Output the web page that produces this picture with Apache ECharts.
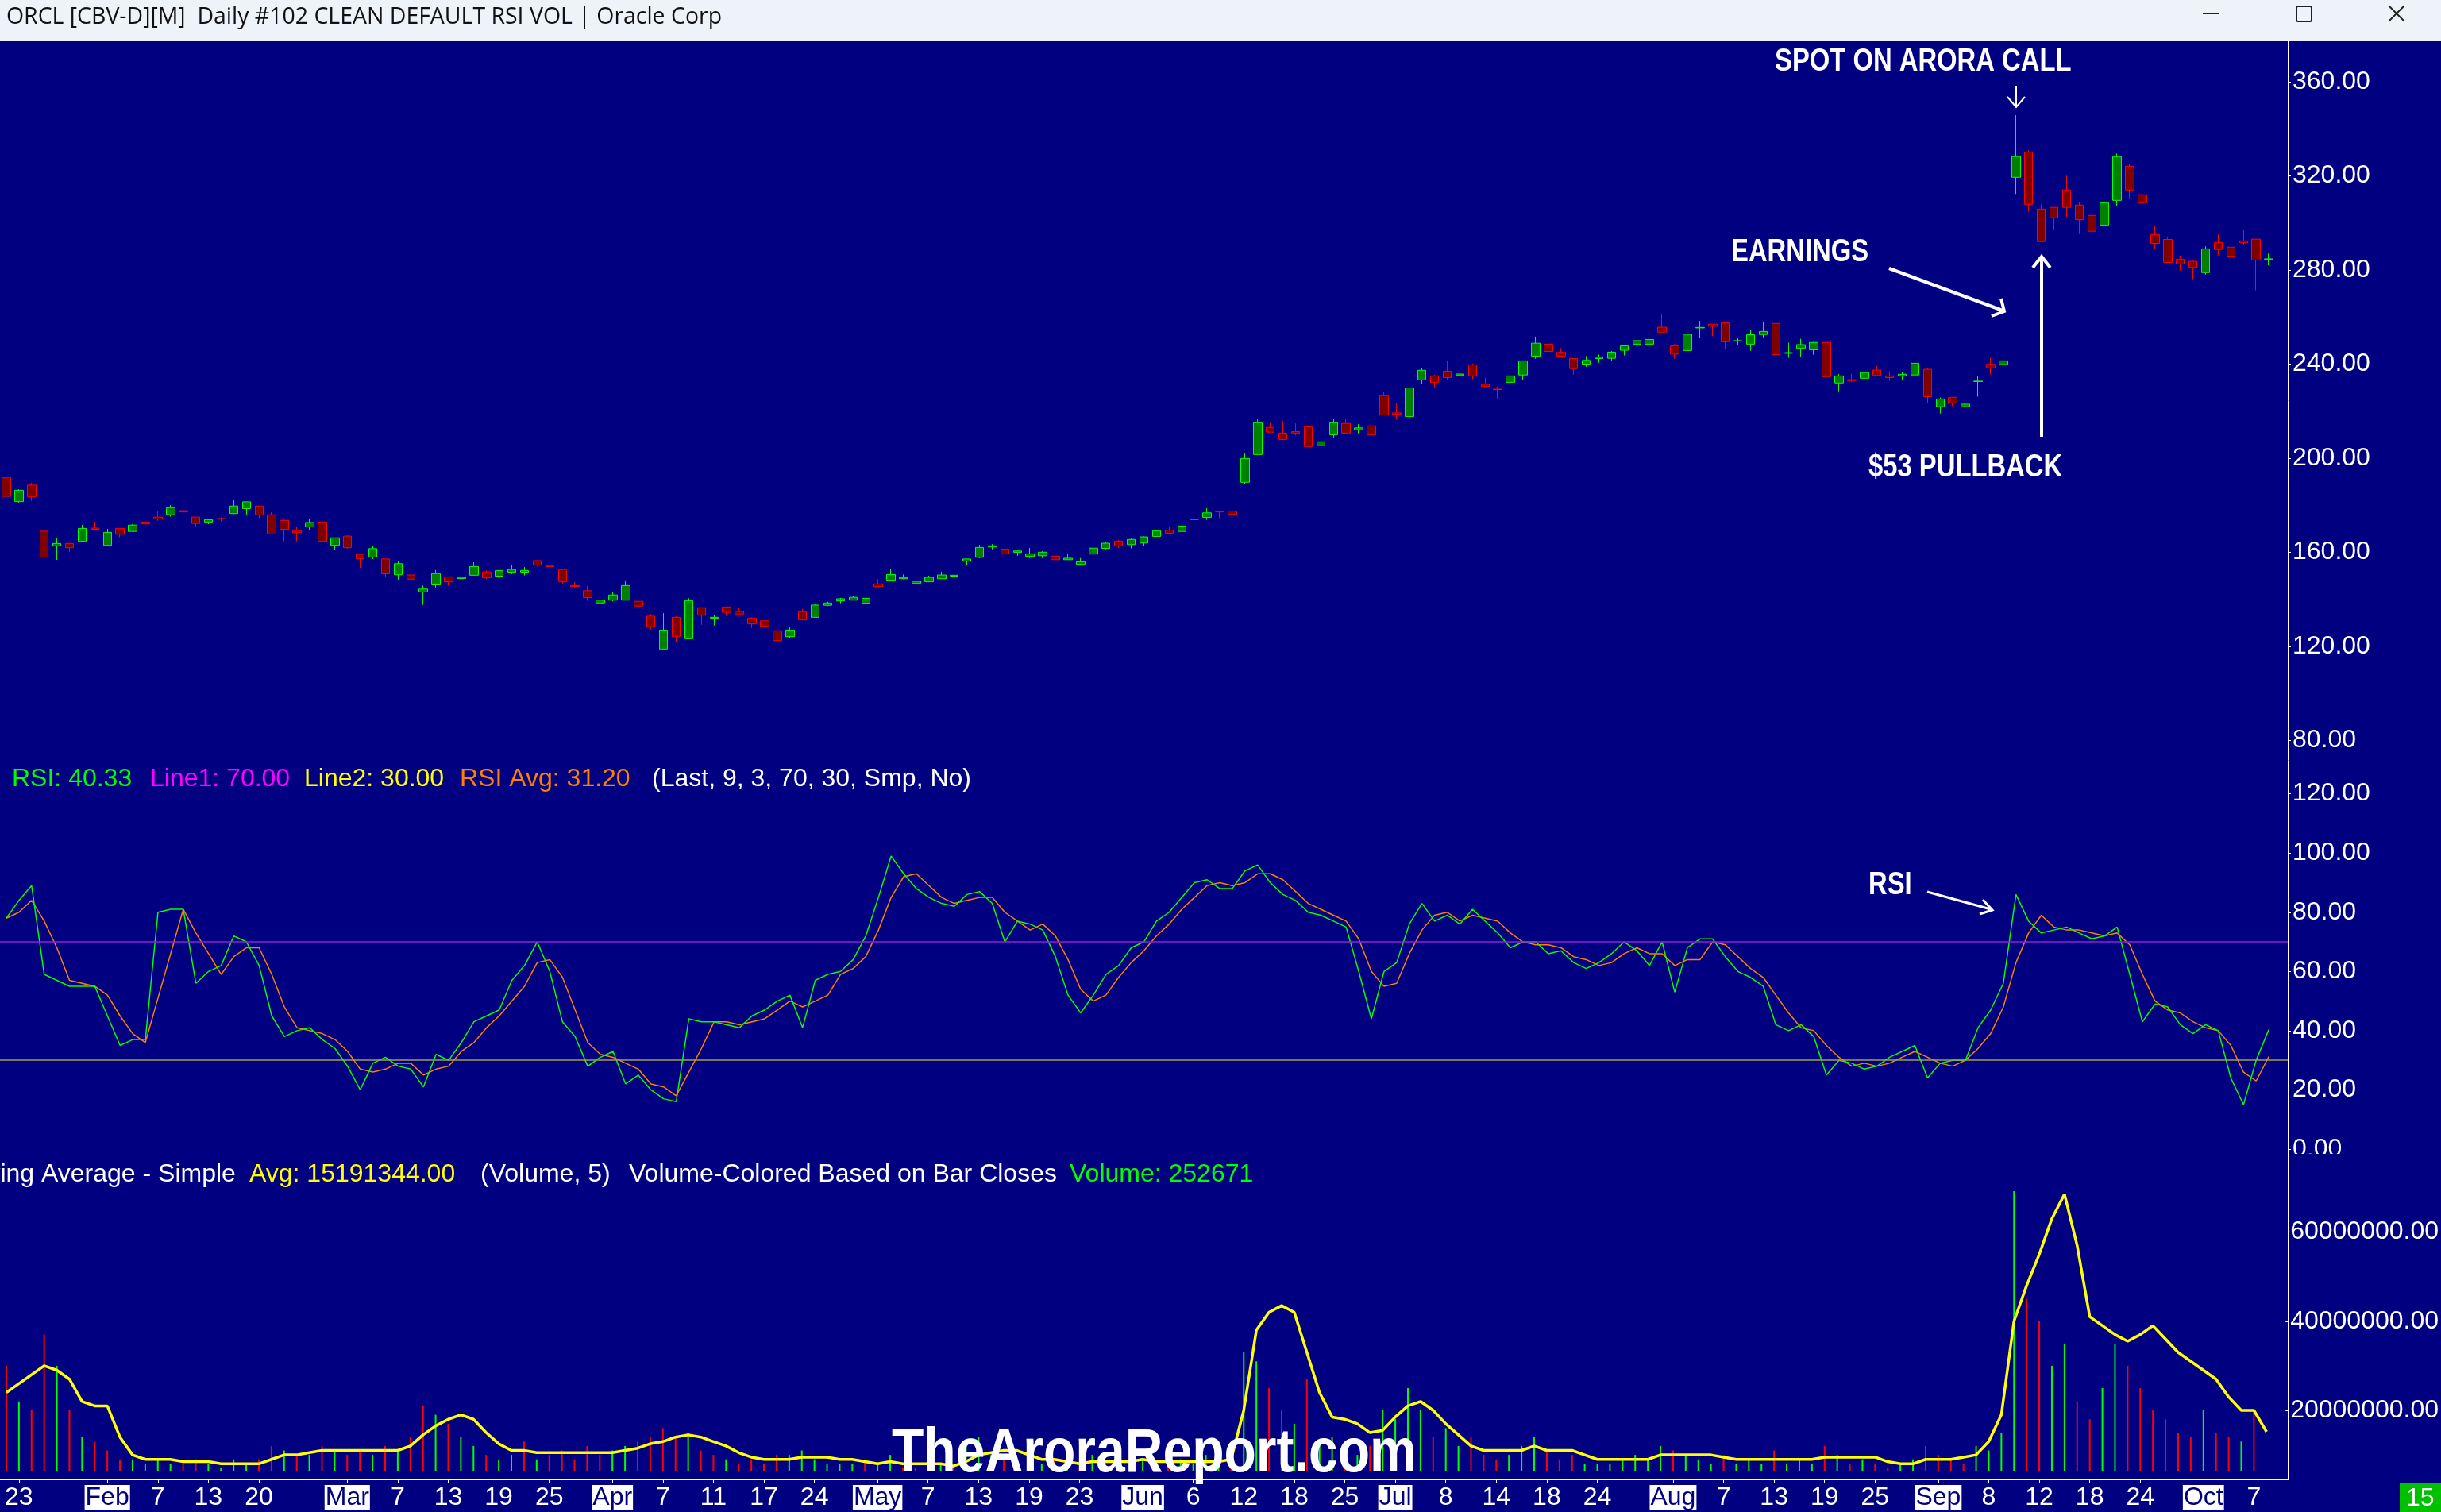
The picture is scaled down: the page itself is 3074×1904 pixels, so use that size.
<!DOCTYPE html>
<html><head><meta charset="utf-8">
<script src="https://cdn.jsdelivr.net/npm/echarts@6/dist/echarts.min.js"></script>
<style>html,body{margin:0;padding:0;background:#000080;overflow:hidden}#c{width:3074px;height:1904px;}</style>
</head><body><div id="c"></div>
<script>
// ---------- categories (trading days 2025) ----------
const tradingDays = {
  1:[22,23,24,27,28,29,30,31],
  2:[3,4,5,6,7,10,11,12,13,14,18,19,20,21,24,25,26,27,28],
  3:[3,4,5,6,7,10,11,12,13,14,17,18,19,20,21,24,25,26,27,28,31],
  4:[1,2,3,4,7,8,9,10,11,14,15,16,17,21,22,23,24,25,28,29,30],
  5:[1,2,5,6,7,8,9,12,13,14,15,16,19,20,21,22,23,27,28,29,30],
  6:[2,3,4,5,6,9,10,11,12,13,16,17,18,20,23,24,25,26,27,30],
  7:[1,2,3,7,8,9,10,11,14,15,16,17,18,21,22,23,24,25,28,29,30,31],
  8:[1,4,5,6,7,8,11,12,13,14,15,18,19,20,21,22,25,26,27,28,29],
  9:[2,3,4,5,8,9,10,11,12,15,16,17,18,19,22,23,24,25,26,29,30],
  10:[1,2,3,6,7,8,9]
};
const tickDates = ['01-23','02-03','02-07','02-13','02-20','03-03','03-07','03-13','03-19','03-25','04-01','04-07','04-11','04-17','04-24','05-01','05-07','05-13','05-19','05-23','06-02','06-06','06-12','06-18','06-25','07-01','07-08','07-14','07-18','07-24','08-01','08-07','08-13','08-19','08-25','09-02','09-08','09-12','09-18','09-24','10-01','10-07'];
const tickText = ['23','Feb','7','13','20','Mar','7','13','19','25','Apr','7','11','17','24','May','7','13','19','23','Jun','6','12','18','25','Jul','8','14','18','24','Aug','7','13','19','25','Sep','8','12','18','24','Oct','7'];

// ---------- price (OHLC) ----------
const openP = [
191.7,181.6,188.6,169.0,162.7,163.8,164.7,170.3,163.0,170.2,
168.9,172.9,175.0,176.0,177.7,175.0,172.9,174.4,176.5,178.6,
179.7,176.0,173.6,169.3,170.8,172.9,163.0,166.9,159.2,158.0,
157.2,150.5,150.4,143.2,146.2,149.6,148.9,150.3,151.7,149.9,
151.6,151.6,156.5,154.4,152.7,145.9,143.7,138.5,139.7,139.7,
139.2,132.9,118.9,132.4,123.3,136.5,132.0,136.8,134.9,132.1,
130.9,126.7,124.2,134.8,132.4,137.5,139.4,139.7,138.4,146.6,
148.2,148.8,146.8,147.5,148.8,149.9,156.3,157.9,162.3,161.4,
160.0,158.3,158.6,158.4,156.9,154.9,159.3,161.7,164.8,163.3,
164.0,166.8,169.5,168.9,174.0,174.9,177.6,177.6,189.8,201.6,
213.1,210.7,211.3,213.4,205.3,210.0,214.8,212.1,213.8,226.6,
219.3,217.7,233.3,235.0,237.0,235.2,239.7,231.4,229.4,232.3,
235.4,243.4,248.5,245.0,242.4,240.0,242.4,242.5,245.9,248.5,
248.5,255.7,247.8,245.8,255.4,257.0,257.6,249.8,248.5,252.6,
257.3,244.6,246.7,246.1,249.2,232.0,233.4,234.0,237.5,235.0,
235.0,235.4,237.8,221.9,225.9,221.9,232.6,239.9,239.8,319.4,
330.1,305.9,306.6,314.0,307.6,303.2,299.1,309.6,324.1,312.0,
295.1,293.0,284.6,283.7,278.9,291.7,289.7,292.4,293.1,284.5,
null];
const closeP = [
183.8,186.4,183.6,158.0,163.8,162.0,170.2,169.8,168.5,167.7,
171.6,172.1,174.2,179.0,177.2,172.3,173.9,174.2,179.7,181.5,
175.9,167.8,169.8,168.4,172.7,164.7,166.2,162.0,157.3,161.6,
150.9,155.2,148.6,144.4,151.0,147.5,149.4,154.0,149.2,152.3,
152.7,152.3,154.6,153.9,147.5,145.5,140.8,139.7,141.9,145.9,
137.2,128.4,127.0,124.3,139.5,133.3,132.4,134.5,133.8,129.6,
128.6,122.5,127.0,131.3,137.6,138.5,140.3,140.9,140.5,145.5,
150.6,149.3,147.7,149.4,150.4,150.3,157.2,162.1,162.8,159.3,
160.6,159.4,160.1,156.9,157.5,156.0,161.8,163.9,162.7,165.5,
166.6,169.2,168.1,171.2,174.2,176.8,177.2,176.3,199.9,215.1,
211.1,208.0,210.7,205.0,207.0,215.1,210.7,212.9,209.9,218.4,
218.7,229.9,237.4,232.2,234.3,235.8,235.0,230.5,229.2,235.0,
241.4,248.9,245.4,243.4,238.1,241.6,243.0,245.1,247.8,250.0,
250.5,253.6,244.3,252.7,255.6,256.1,249.5,250.0,252.5,253.9,
244.0,244.9,248.3,249.2,234.7,235.0,233.0,236.4,235.2,234.3,
235.7,240.4,226.2,225.2,223.5,223.0,232.8,238.4,241.4,328.2,
307.9,292.1,302.2,306.6,301.4,296.5,308.6,328.2,314.0,308.6,
291.3,283.2,282.6,281.1,289.0,288.7,285.9,291.6,284.2,284.75,
null];
const highP = [
192.5,186.8,189.5,172.8,166.1,163.8,171.7,173.0,170.0,170.2,
172.0,175.7,177.4,180.1,179.0,175.0,174.3,174.8,182.1,181.5,
179.7,177.0,174.3,170.7,174.1,175.1,166.2,167.3,159.2,162.6,
157.2,156.5,152.4,145.9,152.5,149.6,151.0,155.8,152.3,154.1,
154.5,153.8,156.5,155.9,152.7,147.3,145.7,140.8,143.3,148.1,
141.3,133.8,134.2,132.9,140.5,136.5,133.2,136.8,136.5,132.4,
130.9,127.0,128.1,136.0,138.0,139.0,140.7,141.3,141.3,148.6,
153.1,150.6,149.1,150.1,151.8,151.8,157.2,163.2,163.5,161.9,
160.8,161.9,160.5,161.0,159.2,157.6,162.7,164.4,165.3,166.2,
166.8,169.2,170.7,172.2,174.7,178.8,177.6,179.7,202.4,216.5,
215.0,215.9,214.8,213.9,207.3,216.6,216.8,214.5,214.7,228.3,
223.4,232.1,238.2,235.5,241.5,236.5,240.2,234.1,230.5,235.7,
241.4,251.7,249.6,246.8,242.4,243.4,244.1,245.6,248.1,253.0,
251.0,261.1,248.5,253.0,258.4,257.0,257.6,251.1,254.7,258.1,
257.7,249.1,250.8,249.4,249.2,235.8,235.9,238.4,239.1,237.0,
236.5,241.9,238.2,225.8,225.9,223.8,234.8,242.7,243.4,345.8,
330.9,307.9,306.6,320.1,308.7,303.9,311.1,329.5,325.2,312.4,
298.9,294.2,286.1,283.9,290.1,295.1,294.9,296.9,293.1,287.0,
null];
const lowP = [
183.0,181.2,181.9,152.9,156.8,160.2,164.3,169.4,163.0,166.4,
168.9,171.8,173.4,175.2,176.5,170.7,172.0,173.2,176.3,175.7,
174.5,167.8,164.7,164.7,169.4,164.7,161.0,161.6,153.5,157.2,
149.7,148.4,146.7,137.7,145.0,145.8,148.0,150.3,148.7,149.9,
150.8,150.2,154.2,153.2,146.7,145.0,139.4,136.9,139.2,139.7,
136.9,127.3,118.9,122.0,123.3,129.2,128.9,133.0,133.8,127.9,
128.6,121.6,123.4,131.3,132.4,137.2,138.4,139.7,135.7,145.5,
148.2,148.6,145.8,147.5,148.8,149.9,154.6,157.6,161.3,159.1,
158.5,157.6,157.6,156.6,156.9,154.6,159.0,161.3,161.9,161.7,
162.7,166.8,167.7,168.9,172.9,173.8,174.5,176.3,189.1,201.6,
211.1,207.7,209.7,205.0,202.8,208.6,210.3,210.6,209.9,218.4,
216.4,217.0,231.4,229.7,233.1,232.1,233.6,230.3,225.4,229.5,
233.2,242.3,245.0,243.4,235.6,238.9,240.6,241.5,243.7,246.6,
245.6,253.6,242.3,245.8,251.3,251.9,246.6,248.0,245.7,251.4,
242.7,242.7,243.1,244.0,232.5,228.5,232.5,231.4,235.2,233.0,
233.0,235.4,223.5,219.0,222.1,219.8,226.2,235.6,235.0,312.3,
304.8,292.1,297.3,302.5,295.2,292.4,297.7,307.2,310.2,300.3,
288.8,283.2,279.7,276.1,278.1,286.2,284.2,290.7,271.4,282.0,
null];

// ---------- RSI ----------
const rsi = [
78,84,89,59,57,55,55,55,45,35,
37,37,80,81,81,56,60,62,72,70,
62,45,38,40,41,37,34,28,20,29,
31,28,27,21,32,30,36,43,45,47,
57,62,70,60,43,38,28,31,33,22,
25,20,17,16,44,43,43,42,41,45,
47,50,52,41,57,59,60,64,72,85,
99,93,88,85,83,82,86,87,83,70,
77,76,74,65,52,46,52,59,62,68,
70,77,80,85,90,91,88,88,94,96,
90,86,84,80,79,77,75,60,44,60,
63,76,83,77,79,76,81,77,73,68,
70,70,66,67,63,61,63,66,70,67,
62,70,53,68,71,71,65,60,58,55,
42,40,42,38,25,30,29,27,28,31,
33,35,24,29,30,30,41,47,56,86,
77,73,74,75,73,71,72,75,59,43,
49,48,42,39,42,40,24,15,30,40.33,
null];
const rsiAvg = [
78,80,84,77,68,57,56,55,52,45,
39,36,51,66,81,73,66,59,65,68,
68,59,48,41,40,39,37,33,27,26,
27,29,29,25,27,28,33,36,41,45,
50,55,63,64,58,47,36,32,31,29,
27,22,21,18,26,34,43,43,42,43,
44,47,50,48,50,52,59,61,65,74,
85,92,93,89,85,83,84,85,85,80,
77,74,76,72,64,54,50,52,58,63,
67,72,76,81,85,89,90,89,90,93,
93,91,87,83,81,79,77,71,60,55,
56,66,74,79,80,77,79,78,77,73,
70,69,69,68,65,64,62,63,66,68,
66,66,62,64,64,70,69,65,61,58,
52,46,41,40,35,31,28,29,28,29,
31,33,31,29,28,30,34,39,48,63,
73,79,75,74,74,73,72,73,69,59,
50,47,46,43,41,40,35,26,23,31.2,
null];
const rsiLevels = [70, 30];

// ---------- volume (millions) ----------
const volM = [
30,22,20,37,30,20,14,13,11,9,
9,8,9,8,8,9,8,7,9,8,
9,12,11,10,10,12,11,10,11,10,
12,11,14,21,19,17,14,12,10,9,
10,13,9,10,11,9,12,10,11,12,
13,14,16,14,15,11,10,9,8,9,
8,10,10,11,9,8,8,8,9,8,
10,7,7,8,8,7,12,14,10,9,
10,8,8,9,8,7,10,9,8,9,
9,8,8,9,8,10,8,9,33,31,
25,20,17,27,12,14,11,10,12,20,
18,25,20,14,16,12,14,10,9,10,
12,14,11,9,10,8,8,8,9,10,
9,12,11,10,9,8,10,8,9,8,
11,8,9,8,12,10,8,9,8,7,
8,9,12,10,9,8,12,11,15,75,
45,40,30,35,22,18,25,35,30,25,
20,18,15,14,20,15,14,13,20,0.252671,
null];
const volAvgM = [
24,26,28,30,29,27,22,21,21,14,
10,9,9,9,8.5,8.5,8.5,8,8,8,
8,9,10,10,10.5,11,11,11,11,11,
11,11,12,14.5,16.5,18,19,18,15,12.5,
11,11,10.5,10.5,10.5,10.5,10.5,10.5,10.5,11,
11.5,12.5,13,14,14.5,14,13,12,10.5,9.5,
9,9,9,9.5,9.5,9.5,9,9,8.5,8,
8.5,8,8,8,8,7.5,8.5,10,10.5,11,
11,10,9,9,8.5,8,8.5,8.5,8.5,8.5,
9,8.5,8.5,8.5,8.5,8.5,8.5,9,20,38,
42,43.5,42,33,24,18.5,18,17,15,15.5,
18.5,21,22,20,17,14.5,12,11,11,11,
11,12,11,11,11,10,9,9,9,9,
9,10,10,10,10,10,9.5,9,9,9,
9,9,9,9,9.5,9.5,9.5,9.5,9.5,8.5,
8,8,9,9,9,9.5,10,13,19,40,
48,55,63,68.5,57,41,39,37,35.5,37,
39,36,33,31,29,27,23,20,20,15.19,
null];

// ---------- axis tick values ----------
const priceTicks = [80,120,160,200,240,280,320,360];
const rsiTicks = [0,20,40,60,80,100,120];
const volTicks = [20,40,60];
const lastPrice = 284.75;

// ---------- build ----------
const dates = [];
Object.keys(tradingDays).forEach(m => tradingDays[m].forEach(d =>
  dates.push('2025-' + String(m).padStart(2,'0') + '-' + String(d).padStart(2,'0'))));
const tickMap = {};
tickDates.forEach((t,i) => { tickMap['2025-' + t] = tickText[i]; });
const isMonth = t => /^[A-Z]/.test(t);

const candles = dates.map((d,i) => openP[i] == null ? '-' : [openP[i], closeP[i], lowP[i], highP[i]]);
const volBars = dates.map((d,i) => {
  if (volM[i] == null) return '-';
  const up = i === 0 ? closeP[i] >= openP[i] : closeP[i] >= closeP[i-1];
  return { value: volM[i], itemStyle: { color: up ? '#00ff00' : '#ff0000' } };
});

const AX = 'Liberation Sans, Arial, sans-serif';
const GL = -12.7, GR = 193;
const grids = [
  { left: GL, right: GR, top: 53, height: 902 },
  { left: GL, right: GR, top: 955, height: 492 },
  { left: GL, right: GR, top: 1500, height: 353 }
];
function yAx(grid, min, max, ticks, fmt) {
  return {
    type: 'value', gridIndex: grid, position: 'right', min: min, max: max, scale: true,
    axisLine: { show: false }, splitLine: { show: false },
    axisTick: { show: true, length: 4, customValues: ticks, lineStyle: { color: '#fff', width: 1 } },
    axisLabel: { customValues: ticks, color: '#fff', fontSize: 32, fontFamily: AX, margin: 6, formatter: fmt }
  };
}
const chart = echarts.init(document.getElementById('c'), null, { renderer: 'canvas' });

// text helper: position on element, optional horizontal squeeze
const T = (text, x, y, fill, font, sx, va) => ({
  type: 'text', z: 100, x: x, y: y, scaleX: sx || 1,
  style: { text: text, x: 0, y: 0, fill: fill, font: font, textVerticalAlign: va || 'middle' }
});
const L = (x1, y1, x2, y2, stroke, w) => ({ type: 'line', z: 100, shape: { x1, y1, x2, y2 }, style: { stroke, lineWidth: w } });
const P = (pts, stroke, w) => ({ type: 'polyline', z: 100, shape: { points: pts }, style: { stroke, lineWidth: w, fill: null } });

const f32 = '32px ' + AX;
const ann = 'bold 40px ' + AX;
const NS = 0.82;

const graphics = [
  { type: 'rect', z: 90, shape: { x: 0, y: 0, width: 3074, height: 52 }, style: { fill: '#eef2f9' } },
  T('ORCL [CBV-D][M]  Daily #102 CLEAN DEFAULT RSI VOL | Oracle Corp', 8, 21, '#111', '30px "Open Sans", "Noto Sans", sans-serif', 0.948),
  L(2774, 17, 2795, 17, '#222', 2),
  { type: 'rect', z: 100, shape: { x: 2892, y: 8, width: 19, height: 19, r: 2 }, style: { fill: null, stroke: '#222', lineWidth: 2 } },
  L(3008, 7, 3028, 27, '#222', 2), L(3028, 7, 3008, 27, '#222', 2),
  // frame
  L(2881.5, 52, 2881.5, 1863, '#fff', 1),
  L(0, 1863.5, 2882, 1863.5, '#fff', 1),
  // RSI pane clips the bottom of its "0.00" label
  { type: 'rect', z: 95, shape: { x: 2883, y: 1453, width: 120, height: 9 }, style: { fill: '#000080' } },
  // RSI header
  T('RSI: 40.33', 15, 981, '#00ff00', f32),
  T('Line1: 70.00', 189, 981, '#ff00ff', f32),
  T('Line2: 30.00', 383, 981, '#ffff00', f32),
  T('RSI Avg: 31.20', 579, 981, '#ff8000', f32),
  T('(Last, 9, 3, 70, 30, Smp, No)', 821, 981, '#ffffff', f32),
  // Volume header
  T('Moving Average - Simple', -60, 1479, '#ffffff', f32),
  T('Avg: 15191344.00', 314, 1479, '#ffff00', f32),
  T('(Volume, 5)', 605, 1479, '#ffffff', f32),
  T('Volume-Colored Based on Bar Closes', 792, 1479, '#ffffff', f32),
  T('Volume: 252671', 1347, 1479, '#00ff00', f32),
  // annotations
  T('SPOT ON ARORA CALL', 2235, 78, '#fff', ann, NS),
  L(2539, 108, 2539, 134, '#fff', 2), P([[2528,122],[2539,135],[2550,122]], '#fff', 2),
  T('EARNINGS', 2180, 318, '#fff', ann, NS),
  L(2379, 338, 2522, 391, '#fff', 4), P([[2508,398],[2524,392],[2520,376]], '#fff', 4),
  L(2571, 550, 2571, 325, '#fff', 4), P([[2560,337],[2571,323],[2582,337]], '#fff', 4),
  T('$53 PULLBACK', 2353, 589, '#fff', ann, NS),
  T('RSI', 2353, 1115, '#fff', ann, NS),
  L(2427, 1123, 2507, 1145, '#fff', 3), P([[2493,1151],[2509,1146],[2497,1133]], '#fff', 3),
  // watermark
  Object.assign(T('TheAroraReport.com', 1123, 1870, '#fff', 'bold 78px ' + AX, 0.847, 'bottom'), { z: 110 }),
  // bottom-right box
  { type: 'rect', z: 100, shape: { x: 3022, y: 1867, width: 52, height: 37 }, style: { fill: '#00c000' } },
  T('15', 3030, 1887, '#fff', f32)
];

chart.setOption({
  backgroundColor: '#000080',
  animation: false,
  grid: grids,
  xAxis: [0,1,2].map(g => ({
    type: 'category', gridIndex: g, data: dates, boundaryGap: true,
    show: g === 2, offset: g === 2 ? 10 : 0,
    axisLine: { show: g === 2, lineStyle: { color: '#fff', width: 1 } },
    axisTick: { show: g === 2, alignWithLabel: true, length: 5, lineStyle: { color: '#fff' },
      interval: (i, v) => tickMap[v] !== undefined },
    axisLabel: { show: g === 2, margin: 4, fontFamily: AX, fontSize: 32, color: '#fff',
      interval: (i, v) => tickMap[v] !== undefined,
      formatter: v => { const t = tickMap[v]; if (t === undefined) return ''; return isMonth(t) ? '{m|' + t + '}' : '{d|' + t + '}'; },
      rich: {
        d: { color: '#fff', fontSize: 32, fontFamily: AX, lineHeight: 38 },
        m: { color: '#000080', backgroundColor: '#fff', fontSize: 32, fontFamily: AX, lineHeight: 38, padding: [0, 1] }
      } },
    splitLine: { show: false }
  })),
  yAxis: [
    yAx(0, 72.45, 376.87, priceTicks, v => v.toFixed(2)),
    yAx(1, 0, 131.97, rsiTicks, v => v.toFixed(2)),
    yAx(2, 6.28, 69.18, volTicks, v => (v * 1e6).toFixed(2))
  ],
  series: [
    { type: 'candlestick', xAxisIndex: 0, yAxisIndex: 0, data: candles, barWidth: 11, clip: true,
      itemStyle: { color: '#008000', color0: '#800000', borderColor: '#00ff00', borderColor0: '#ff0000', borderWidth: 1 },
      markLine: { silent: true, symbol: 'none', animation: false,
        lineStyle: { opacity: 0 },
        label: { show: true, position: 'end', distance: 6, formatter: lastPrice.toFixed(2), color: '#000', backgroundColor: '#fff',
          fontSize: 32, fontFamily: AX, padding: [2, 1, 2, 1] },
        data: [{ yAxis: lastPrice }] } },
    { type: 'line', xAxisIndex: 1, yAxisIndex: 1, data: rsiAvg, symbol: 'none', clip: true,
      lineStyle: { color: '#ff8000', width: 1.5 }, z: 3 },
    { type: 'line', xAxisIndex: 1, yAxisIndex: 1, data: rsi, symbol: 'none', clip: true,
      lineStyle: { color: '#00ff00', width: 1.5 }, z: 4,
      markLine: { silent: true, symbol: 'none', animation: false, label: { show: false },
        data: [
          { yAxis: rsiLevels[0], lineStyle: { color: '#9020d0', width: 1.5, type: 'solid', opacity: 1 } },
          { yAxis: rsiLevels[1], lineStyle: { color: '#a0a050', width: 1.5, type: 'solid', opacity: 1 } }
        ] } },
    { type: 'bar', xAxisIndex: 2, yAxisIndex: 2, data: volBars, barWidth: 2, clip: true },
    { type: 'line', xAxisIndex: 2, yAxisIndex: 2, data: volAvgM, symbol: 'none', clip: true,
      lineStyle: { color: '#ffff00', width: 3.5 }, z: 5 }
  ],
  graphic: { elements: graphics }
});
</script>
</body></html>
